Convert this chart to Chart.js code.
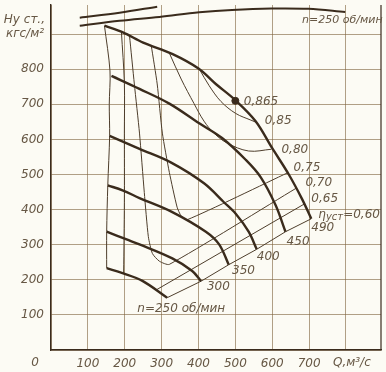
<!DOCTYPE html>
<html lang="ru">
<head>
<meta charset="UTF-8">
<title>Аэродинамическая характеристика вентилятора</title>
<script src="https://cdn.jsdelivr.net/npm/chart.js"></script>
<style>
  body { margin: 0; background: #fcfbf4; }
  #wrap { width: 386px; height: 372px; }
</style>
</head>
<body>
<div id="wrap"><canvas id="fanChart" width="386" height="372"></canvas></div>
<script>
// напор H (кгс/м2) от подачи Q (м3/с) при разных оборотах, точки [Q, H]
const n490 = [[145,924],[195,905],[250,876],[330,843],[400,802],[447,758],[500,712],[555,652],[600,575],[645,500],[680,432],[706,374]];
const n450 = [[164,781],[240,744],[321,702],[402,646],[464,604],[528,542],[569,492],[609,413],[636,337]];
const n400 = [[159,610],[240,573],[326,534],[415,475],[469,421],[501,388],[536,337],[558,287]];
const n350 = [[154,469],[194,455],[240,433],[329,393],[420,337],[456,301],[482,243]];
const n300 = [[151,337],[205,315],[240,301],[329,261],[383,225],[407,196]];
const n250 = [[151,233],[194,219],[248,197],[315,149]];

// линии КПД
const eta085 = [[402,801],[429,753],[461,708],[501,674],[542,655],[558,648]];
const eta080 = [[321,846],[353,772],[388,702],[415,652],[442,618],[477,590],[536,567],[598,572]];
const eta075 = [[272,867],[288,758],[302,618],[321,506],[342,407],[353,382],[369,371],[642,505]];
const eta070 = [[213,895],[226,758],[240,618],[253,449],[264,323],[275,275],[294,253],[321,244],[665,461]];
const eta065left = [[191,906],[199,760],[199,618],[199,421],[197,219]];
const eta065right = [[285,171],[687,416]];
const eta060 = [[315,149],[407,196],[482,243],[558,287],[636,337],[706,374]];
const leftEdge = [[145,924],[160,795],[158,700],[159,610],[154,469],[151,337],[151,233]];

// верхние кривые (обрезаны сверху)
const topLong = [[78,924],[186,938],[294,949],[402,962],[491,969],[598,973],[698,972],[798,963]];
const topShort = [[78,947],[186,961],[288,978]];
const bestPoint = [[500,710]];

// деления осей
const qTicks = [0, 100, 200, 300, 400, 500, 600, 700, 800];
const hTicks = [0, 100, 200, 300, 400, 500, 600, 700, 800, 900];
const qUnit = 'Q,м³/с';
const hUnit = 'кгс/м²';
const hTitle = 'Hу ст.,';

// подписи [текст, Q, H]
const curveLabels = [
  ['0,865', 523, 708], ['0,85', 580, 654], ['0,80', 625, 570], ['0,75', 658, 520],
  ['0,70', 690, 475], ['0,65', 706, 430],
  ['490', 706, 348], ['450', 639, 309], ['400', 558, 264], ['350', 491, 225], ['300', 423, 180],
  ['n=250 об/мин', 234, 118]
];
const topLabel = ['n=250 об/мин', 681, 941];
const etaLabel = ['η', 'уст', '=0,60', 725, 385];

const ink = '#3a2b1c';
const thinInk = '#4d3d2b';
const textInk = '#665744';
const gridInk = 'rgba(125,98,58,0.6)';
const font = '"DejaVu Sans", sans-serif';

function curve(pts, w, color, tension) {
  return {
    data: pts.map(([x, y]) => ({ x, y })),
    showLine: true, borderColor: color, borderWidth: w,
    pointRadius: 0, tension: tension, fill: false
  };
}

const texts = {
  id: 'texts',
  afterDatasetsDraw(chart) {
    const { ctx, chartArea, scales: { x, y } } = chart;
    ctx.save();
    // правая рамка
    ctx.strokeStyle = ink;
    ctx.lineWidth = 1.2;
    ctx.beginPath();
    ctx.moveTo(chartArea.right, chartArea.top);
    ctx.lineTo(chartArea.right, chartArea.bottom);
    ctx.stroke();

    ctx.fillStyle = textInk;
    ctx.font = 'italic 12px ' + font;
    ctx.textBaseline = 'middle';
    ctx.textAlign = 'left';
    curveLabels.forEach(([t, q, h]) => ctx.fillText(t, x.getPixelForValue(q), y.getPixelForValue(h)));

    const [e1, e2, e3, eq, eh] = etaLabel;
    let px = x.getPixelForValue(eq), py = y.getPixelForValue(eh);
    ctx.fillText(e1, px, py);
    px += ctx.measureText(e1).width;
    ctx.font = 'italic 10px ' + font;
    ctx.fillText(e2, px, py + 3);
    px += ctx.measureText(e2).width;
    ctx.font = 'italic 12px ' + font;
    ctx.fillText(e3, px, py);

    // единица расхода на месте деления 800
    ctx.fillText(qUnit, x.getPixelForValue(800) - 13, chartArea.bottom + 13);

    ctx.font = 'italic 11px ' + font;
    ctx.fillText(topLabel[0], x.getPixelForValue(topLabel[1]), y.getPixelForValue(topLabel[2]));

    ctx.font = 'italic 12px ' + font;
    ctx.textAlign = 'right';
    ctx.fillText(hTitle, chartArea.left - 6, y.getPixelForValue(900) - 14);
    ctx.fillText('0', chartArea.left - 12, chartArea.bottom + 13);
    ctx.restore();
  }
};

const ctx = document.getElementById('fanChart').getContext('2d');
new Chart(ctx, {
  type: 'scatter',
  data: {
    datasets: [
      curve(n490, 2.4, ink, 0.35), curve(n450, 2.4, ink, 0.35), curve(n400, 2.4, ink, 0.35),
      curve(n350, 2.4, ink, 0.35), curve(n300, 2.4, ink, 0.35), curve(n250, 2.4, ink, 0.35),
      curve(eta085, 1, thinInk, 0.35), curve(eta080, 1, thinInk, 0.35), curve(eta075, 1, thinInk, 0.2),
      curve(eta070, 1, thinInk, 0.2), curve(eta065left, 1, thinInk, 0.3), curve(eta065right, 1, thinInk, 0),
      curve(eta060, 1, thinInk, 0), curve(leftEdge, 1, thinInk, 0.3),
      curve(topLong, 2, ink, 0.35), curve(topShort, 2, ink, 0.35),
      { data: bestPoint.map(([x, y]) => ({ x, y })), pointRadius: 3.5, backgroundColor: ink, borderColor: ink }
    ]
  },
  options: {
    responsive: false,
    animation: false,
    layout: { padding: { top: 0, right: 3, left: 0, bottom: 0 } },
    plugins: { legend: { display: false }, tooltip: { enabled: false } },
    scales: {
      x: {
        type: 'linear', min: 0, max: 895,
        afterBuildTicks: s => { s.ticks = qTicks.map(v => ({ value: v })); },
        afterFit: s => { s.height = 22; s.paddingLeft = 0; s.paddingRight = 0; },
        grid: { color: gridInk, lineWidth: 1, drawTicks: false },
        border: { color: ink, width: 1.4 },
        ticks: {
          autoSkip: false, padding: 7, maxRotation: 0,
          color: textInk, font: { family: font, size: 12, style: 'italic' },
          callback: v => (v === 0 || v === 800) ? '' : v
        }
      },
      y: {
        type: 'linear', min: 0, max: 983,
        afterBuildTicks: s => { s.ticks = hTicks.map(v => ({ value: v })); },
        afterFit: s => { s.width = 51; s.paddingTop = 0; s.paddingBottom = 0; },
        grid: { color: gridInk, lineWidth: 1, drawTicks: false },
        border: { color: ink, width: 1.4 },
        ticks: {
          autoSkip: false, padding: 7,
          color: textInk, font: { family: font, size: 12, style: 'italic' },
          callback: v => v === 0 ? '' : (v === 900 ? hUnit : v)
        }
      }
    }
  },
  plugins: [texts]
});
</script>
</body>
</html>
